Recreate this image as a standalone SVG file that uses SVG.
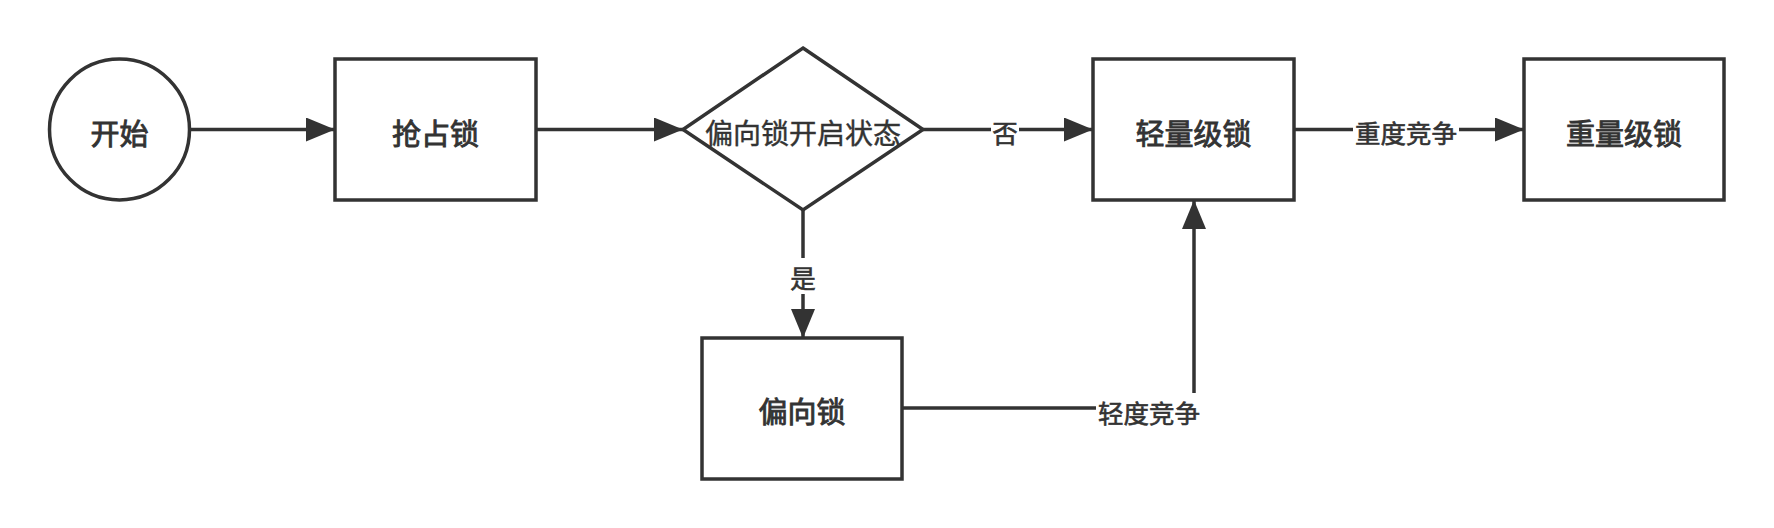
<svg xmlns="http://www.w3.org/2000/svg" width="1774" height="528" viewBox="0 0 1774 528">
<style>
.shape{fill:#fff;stroke:#333;stroke-width:3.5}
.edge{fill:none;stroke:#333;stroke-width:3.5}
.nt{font-family:"Noto Sans CJK SC","Noto Sans",sans-serif;font-size:29px;fill:#333;stroke:#333;stroke-width:0.9;text-anchor:middle;dominant-baseline:central}
.dt{font-family:"Noto Sans CJK SC","Noto Sans",sans-serif;font-size:28px;fill:#333;stroke:#333;stroke-width:0.4;text-anchor:middle;dominant-baseline:central}
.lt{font-family:"Noto Sans CJK SC","Noto Sans",sans-serif;font-size:25.5px;fill:#333;stroke:#333;stroke-width:0.6;text-anchor:middle;dominant-baseline:central}
.lbg{fill:#fff}
</style>
<defs>
<marker id="arr" markerUnits="userSpaceOnUse" markerWidth="32" markerHeight="26" refX="29" refY="12" orient="auto">
<path d="M0,0 L29,12 L0,24 z" fill="#333"/>
</marker>
</defs>
<rect width="1774" height="528" fill="#fff"/>
<g id="connectors">
<path class="edge" d="M190,129.5 L335,129.5" marker-end="url(#arr)"/>
<path class="edge" d="M536,129.5 L683,129.5" marker-end="url(#arr)"/>
<path class="edge" d="M923,129.5 L1093,129.5" marker-end="url(#arr)"/>
<path class="edge" d="M803,210 L803,338" marker-end="url(#arr)"/>
<path class="edge" d="M1295,129.5 L1524,129.5" marker-end="url(#arr)"/>
<path class="edge" d="M902,408 L1194,408 L1194,200" marker-end="url(#arr)"/>
<rect class="lbg" x="991" y="116" width="28" height="30"/>
<text class="lt" x="1005" y="131">否</text>
<rect class="lbg" x="789" y="258" width="28" height="36"/>
<text class="lt" x="803" y="276">是</text>
<rect class="lbg" x="1353" y="116" width="106" height="30"/>
<text class="lt" x="1406" y="131">重度竞争</text>
<rect class="lbg" x="1096" y="393" width="106" height="34"/>
<text class="lt" x="1149" y="411">轻度竞争</text>
</g>
<g id="start">
<ellipse class="shape" cx="119.5" cy="129.5" rx="70" ry="70.5"/>
<text class="nt" x="119.5" y="132">开始</text>
</g>
<g id="grab">
<rect class="shape" x="335" y="59" width="201" height="141"/>
<text class="nt" x="435.5" y="132">抢占锁</text>
</g>
<g id="decision">
<path class="shape" d="M803,48 L923,129.5 L803,210 L683,129.5 Z"/>
<text class="dt" x="803" y="132">偏向锁开启状态</text>
</g>
<g id="light">
<rect class="shape" x="1093" y="59" width="201" height="141"/>
<text class="nt" x="1193.5" y="132">轻量级锁</text>
</g>
<g id="heavy">
<rect class="shape" x="1524" y="59" width="200" height="141"/>
<text class="nt" x="1624" y="132">重量级锁</text>
</g>
<g id="biased">
<rect class="shape" x="702" y="338" width="200" height="141"/>
<text class="nt" x="802" y="410">偏向锁</text>
</g>
</svg>
